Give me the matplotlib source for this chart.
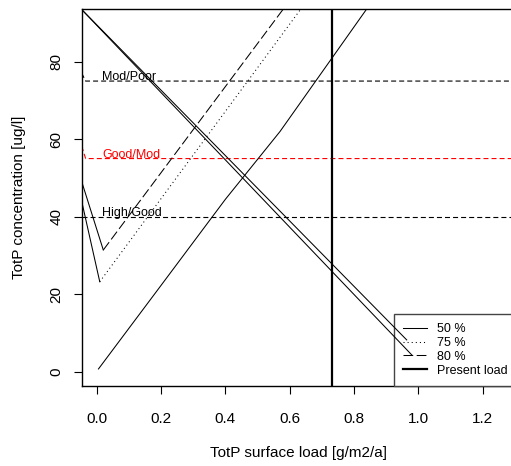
import matplotlib
matplotlib.use("Agg")
import matplotlib.pyplot as plt

plt.rcParams['font.family'] = ['Liberation Sans', 'DejaVu Sans']
plt.rcParams['lines.scale_dashes'] = False

# curves
load50 = [0.005, 0.2, 0.4, 0.57, 0.86]
conc50 = [0.7, 22.3, 44.5, 62.0, 96.0]
load75 = [0.009, 0.64]
conc75 = [23.2, 94.2]
load80 = [0.02, 0.60]
conc80 = [31.4, 95.8]

# steep solid pieces leading into the 75/80 % curves
lead80_x = [-0.047, 0.02]
lead80_y = [49.0, 31.4]
lead75_x = [-0.047, 0.009]
lead75_y = [43.9, 23.2]

# two falling solid lines
fall1_x = [-0.05, 0.964]
fall1_y = [93.7, 8.2]
fall2_x = [-0.05, 0.980]
fall2_y = [93.7, 4.3]

present_load = 0.731

class_names = ["Mod/Poor", "Good/Mod", "High/Good"]
class_limits = [75, 55, 40]
class_start = [77.0, 58.2, 40]
class_colors = ["black", "red", "black"]

fig = plt.figure(figsize=(5.11, 4.66), dpi=100)
ax = fig.add_axes([81.6 / 511, 1 - 386 / 466, (515 - 81.6) / 511, (386 - 9) / 466])

for name, lim, y0, col in zip(class_names, class_limits, class_start, class_colors):
    ax.plot([-0.047, -0.035, 1.35], [y0, lim, lim], color=col, lw=0.8,
            linestyle=(0, (3.6, 2.2)))
    ax.text(0.017, lim + 0.2, name, color=col, fontsize=9, va='baseline', ha='left')

ax.plot(lead80_x, lead80_y, color='black', lw=0.75, zorder=3)
ax.plot(lead75_x, lead75_y, color='black', lw=0.75, zorder=3)
ax.plot(fall1_x, fall1_y, color='black', lw=0.75, zorder=3)
ax.plot(fall2_x, fall2_y, color='black', lw=0.75, zorder=3)

l50, = ax.plot(load50, conc50, color='black', lw=0.75, label='50 %')
l75, = ax.plot(load75, conc75, color='black', lw=0.75,
               linestyle=(0, (0.75, 2.2)), label='75 %')
l80, = ax.plot(load80, conc80, color='black', lw=0.75,
               linestyle=(0, (7, 2.5)), label='80 %')
lp = ax.axvline(present_load, color='black', lw=1.6, label='Present load')

ax.set_xlim(-0.0475, 1.301)
ax.set_ylim(-3.7, 93.6)
ax.set_xticks([0.0, 0.2, 0.4, 0.6, 0.8, 1.0, 1.2])
ax.set_xticklabels(["0.0", "0.2", "0.4", "0.6", "0.8", "1.0", "1.2"])
ax.set_yticks([0, 20, 40, 60, 80])
ax.tick_params(axis='both', labelsize=11, length=6, width=0.8)
ax.tick_params(axis='x', pad=13)
ax.tick_params(axis='y', pad=7)
for lab in ax.get_yticklabels():
    lab.set_rotation(90)
    lab.set_va('center')
for sp in ax.spines.values():
    sp.set_linewidth(1.0)

ax.set_xlabel("TotP surface load [g/m2/a]", fontsize=11)
ax.set_ylabel("TotP concentration [ug/l]", fontsize=11)
ax.xaxis.set_label_coords(0.5, -67 / 377)
ax.xaxis.label.set_va('center')
ax.yaxis.set_label_coords(-63 / 433.4, 0.5)
ax.yaxis.label.set_va('center')

leg = ax.legend(handles=[l50, l75, l80, lp], loc='lower right', fontsize=9,
                bbox_to_anchor=(1.005, 0.0),
                frameon=True, fancybox=False, framealpha=1, edgecolor='#444444',
                borderaxespad=0, borderpad=0.75, labelspacing=0.15,
                handlelength=1.85, handletextpad=0.85)
leg.get_frame().set_linewidth(1.0)
leg.set_zorder(2.5)

fig.savefig("out.png", dpi=100)
